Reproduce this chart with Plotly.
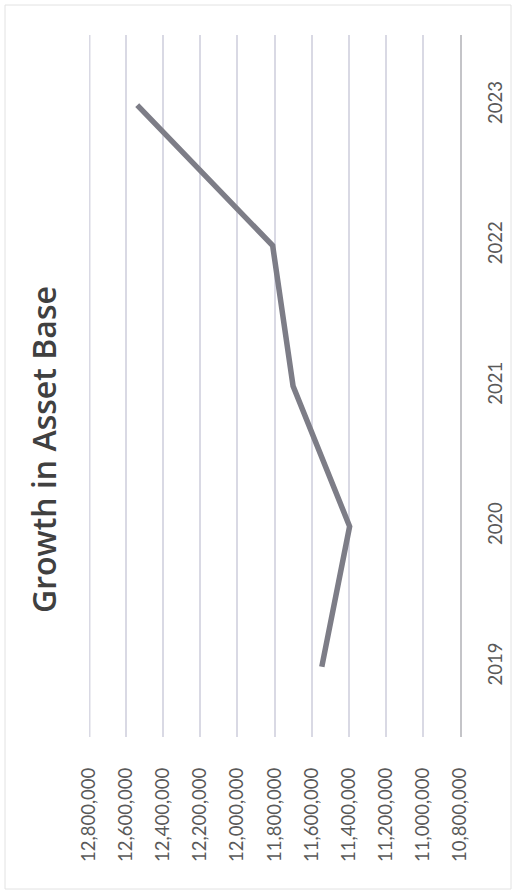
import plotly.graph_objects as go

# Asset base by year
years = ["2019", "2020", "2021", "2022", "2023"]
asset_base = [11545000, 11395000, 11700000, 11810000, 12540000]

# Value axis ticks
value_ticks = [12800000, 12600000, 12400000, 12200000, 12000000, 11800000,
               11600000, 11400000, 11200000, 11000000, 10800000]
value_tick_text = [f"{v:,}" for v in value_ticks]

W, H = 512, 893
L, R, T, B = 89, 52, 35, 156
pw, ph = W - L - R, H - T - B
GRID = "#d9d9e4"


def px_x(x):
    return (x - L) / pw


def px_y(y):
    return (H - B - y) / ph


fig = go.Figure()
fig.add_trace(go.Scatter(
    x=asset_base,
    y=years,
    mode="lines",
    line=dict(color="#7d7d87", width=5.5),
    hoverinfo="skip",
    showlegend=False,
))

tick_font = dict(family="Lato, Open Sans, sans-serif", size=18.5, color="#595959")

fig.update_layout(
    width=W,
    height=H,
    margin=dict(l=L, r=R, t=T, b=B),
    paper_bgcolor="white",
    plot_bgcolor="white",
    xaxis=dict(
        range=[value_ticks[0], value_ticks[-1]],
        tickvals=value_ticks,
        ticktext=value_tick_text,
        tickangle=-90,
        tickfont=tick_font,
        ticklabelstandoff=26,
        showgrid=True,
        gridcolor=GRID,
        gridwidth=1.5,
        zeroline=False,
        showline=False,
        automargin=False,
        fixedrange=True,
    ),
    yaxis=dict(
        type="category",
        categoryorder="array",
        categoryarray=years,
        range=[-0.5, 4.5],
        side="right",
        tickangle=-90,
        tickfont=tick_font,
        ticklabelstandoff=18,
        showgrid=False,
        zeroline=False,
        showline=True,
        linecolor="#c4c4c8",
        linewidth=1.5,
        automargin=False,
        fixedrange=True,
    ),
    annotations=[dict(
        text="Growth in Asset Base",
        xref="paper", yref="paper",
        x=px_x(43), y=px_y(450),
        xanchor="center", yanchor="middle",
        textangle=-90,
        showarrow=False,
        font=dict(family="Open Sans, sans-serif", size=32, color="#404040", weight=600),
    )],
    shapes=[
        dict(
            type="rect",
            xref="paper", yref="paper",
            x0=px_x(5), x1=px_x(511), y0=px_y(889), y1=px_y(5),
            line=dict(color="#e2e2e2", width=1),
            layer="below",
        ),
        # gridline at the top of the value range, which sits on the plot edge
        # (half of its width is clipped by the plot area)
        dict(
            type="line",
            xref="x", yref="paper",
            x0=value_ticks[0], x1=value_ticks[0], y0=0, y1=1,
            line=dict(color=GRID, width=3),
            layer="below",
        ),
    ],
)

fig.write_html("out.html")
